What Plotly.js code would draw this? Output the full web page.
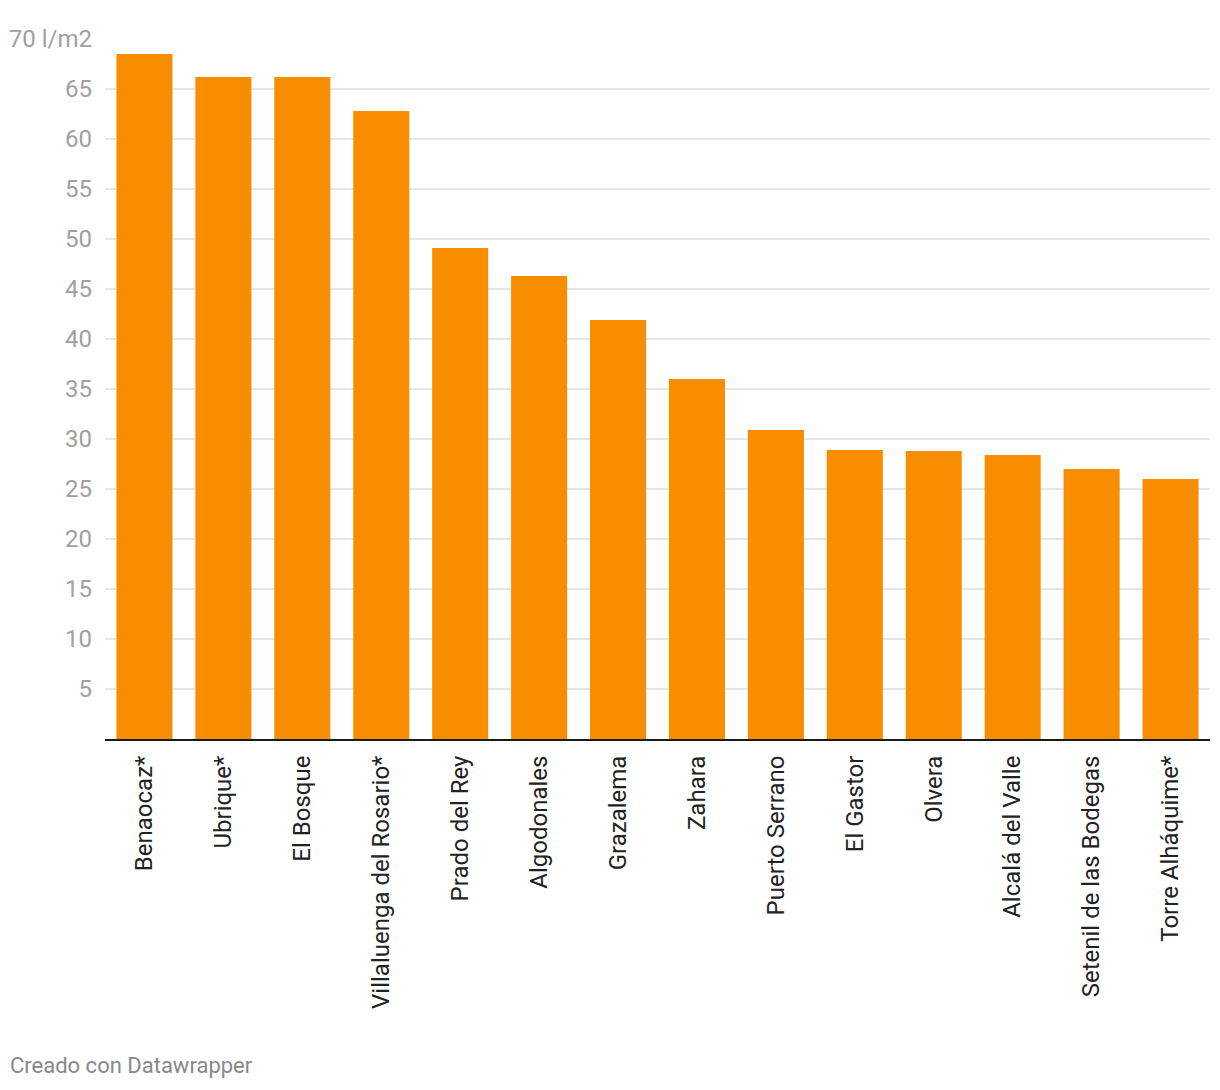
<!DOCTYPE html>
<html>
<head>
<meta charset="utf-8">
<script src="https://cdn.plot.ly/plotly-3.0.1.min.js"></script>
<style>
html,body{margin:0;padding:0;background:#fff;}
#chart{width:1220px;height:1090px;}
</style>
</head>
<body>
<div id="chart"></div>
<script>
const towns = ["Benaocaz*","Ubrique*","El Bosque","Villaluenga del Rosario*","Prado del Rey","Algodonales","Grazalema","Zahara","Puerto Serrano","El Gastor","Olvera","Alcalá del Valle","Setenil de las Bodegas","Torre Alháquime*"];
const rainfall = [68.5,66.2,66.2,62.8,49.1,46.3,41.9,36.0,30.9,28.9,28.8,28.4,27.0,26.0];
const yTickVals = [5,10,15,20,25,30,35,40,45,50,55,60,65,70];
const yTickText = ["5","10","15","20","25","30","35","40","45","50","55","60","65","70 l/m2"];

const trace = {
  type: "bar",
  x: towns,
  y: rainfall,
  marker: {color: "#f98d00"},
  hoverinfo: "x+y"
};

const layout = {
  width: 1220,
  height: 1090,
  margin: {l: 105, r: 10, t: 39, b: 351},
  paper_bgcolor: "#fff",
  plot_bgcolor: "#fff",
  bargap: 0.29,
  showlegend: false,
  font: {family: "Roboto, sans-serif"},
  xaxis: {
    tickangle: -90,
    showline: true,
    linecolor: "#1a1a1a",
    linewidth: 2,
    showgrid: false,
    ticks: "",
    ticklabelstandoff: 5,
    tickfont: {size: 24, color: "#222"},
    fixedrange: true
  },
  yaxis: {
    range: [0, 70],
    tickvals: yTickVals,
    ticktext: yTickText,
    showgrid: true,
    gridcolor: "#e5e5e5",
    gridwidth: 2,
    zeroline: false,
    showline: false,
    ticks: "",
    ticklabelstandoff: 12,
    tickfont: {size: 24, color: "#a0a0a0"},
    fixedrange: true
  },
  annotations: [{
    text: "Creado con Datawrapper",
    xref: "paper", yref: "paper",
    x: -105/1105, y: -326/700,
    xanchor: "left", yanchor: "middle",
    showarrow: false,
    xshift: 8,
    font: {size: 22, color: "#888"}
  }]
};

Plotly.newPlot("chart", [trace], layout, {displayModeBar: false, staticPlot: true});
</script>
</body>
</html>
